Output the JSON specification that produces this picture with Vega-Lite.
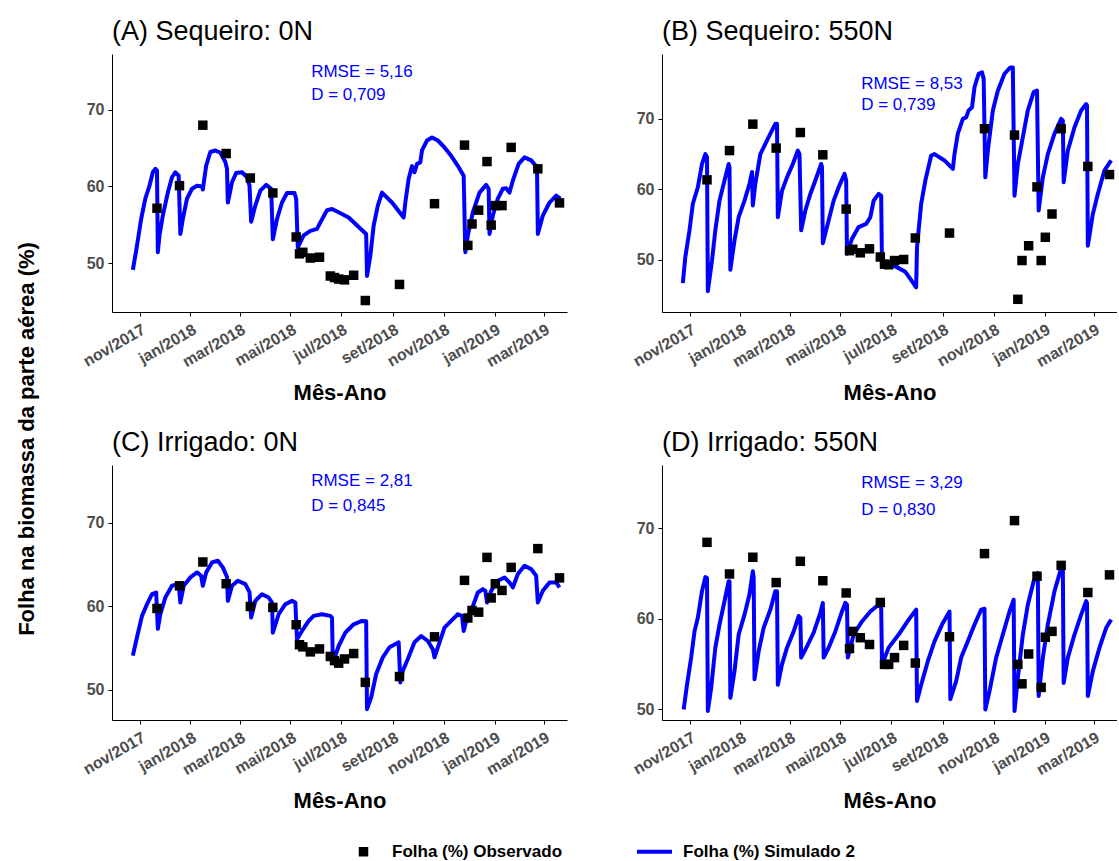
{
"$schema": "https://vega.github.io/schema/vega-lite/v6.json",
"padding": {"left": 16, "top": 18, "right": 0, "bottom": 0},
"title": {"text": "Folha na biomassa da parte aérea (%)", "orient": "left", "anchor": "middle", "fontSize": 22, "fontWeight": "bold", "offset": 41, "color": "black"},
"datasets": {
"estatisticas": [
{"painel": "A", "rmse": "RMSE = 5,16", "d": "D = 0,709"},
{"painel": "B", "rmse": "RMSE = 8,53", "d": "D = 0,739"},
{"painel": "C", "rmse": "RMSE = 2,81", "d": "D = 0,845"},
{"painel": "D", "rmse": "RMSE = 3,29", "d": "D = 0,830"}
],
"observado": [
{"painel":"A","data":"2017-11-22","folha":57.15},{"painel":"A","data":"2017-12-19","folha":60.1},{"painel":"A","data":"2018-01-16","folha":68.0},{"painel":"A","data":"2018-02-13","folha":64.3},{"painel":"A","data":"2018-03-14","folha":61.1},{"painel":"A","data":"2018-04-10","folha":59.15},{"painel":"A","data":"2018-05-08","folha":53.4},{"painel":"A","data":"2018-05-12","folha":51.2},{"painel":"A","data":"2018-05-16","folha":51.4},{"painel":"A","data":"2018-05-25","folha":50.65},{"painel":"A","data":"2018-06-05","folha":50.75},{"painel":"A","data":"2018-06-18","folha":48.3},{"painel":"A","data":"2018-06-23","folha":48.1},{"painel":"A","data":"2018-06-28","folha":47.9},{"painel":"A","data":"2018-07-05","folha":47.8},{"painel":"A","data":"2018-07-16","folha":48.4},{"painel":"A","data":"2018-07-30","folha":45.1},{"painel":"A","data":"2018-09-09","folha":47.2},{"painel":"A","data":"2018-10-21","folha":57.75},{"painel":"A","data":"2018-11-26","folha":65.4},{"painel":"A","data":"2018-11-30","folha":52.3},{"painel":"A","data":"2018-12-05","folha":55.1},{"painel":"A","data":"2018-12-13","folha":56.9},{"painel":"A","data":"2018-12-23","folha":63.25},{"painel":"A","data":"2018-12-28","folha":54.95},{"painel":"A","data":"2019-01-02","folha":57.5},{"painel":"A","data":"2019-01-10","folha":57.5},{"painel":"A","data":"2019-01-21","folha":65.1},{"painel":"A","data":"2019-02-22","folha":62.3},{"painel":"A","data":"2019-03-20","folha":57.85},
{"painel":"B","data":"2017-11-22","folha":61.35},{"painel":"B","data":"2017-12-19","folha":65.5},{"painel":"B","data":"2018-01-16","folha":69.25},{"painel":"B","data":"2018-02-13","folha":65.85},{"painel":"B","data":"2018-03-14","folha":68.06},{"painel":"B","data":"2018-04-10","folha":64.9},{"painel":"B","data":"2018-05-08","folha":57.2},{"painel":"B","data":"2018-05-12","folha":51.3},{"painel":"B","data":"2018-05-16","folha":51.5},{"painel":"B","data":"2018-05-25","folha":51.0},{"painel":"B","data":"2018-06-05","folha":51.56},{"painel":"B","data":"2018-06-18","folha":50.4},{"painel":"B","data":"2018-06-23","folha":49.4},{"painel":"B","data":"2018-06-28","folha":49.3},{"painel":"B","data":"2018-07-05","folha":49.9},{"painel":"B","data":"2018-07-16","folha":50.05},{"painel":"B","data":"2018-07-30","folha":53.1},{"painel":"B","data":"2018-09-09","folha":53.8},{"painel":"B","data":"2018-10-21","folha":68.6},{"painel":"B","data":"2018-11-26","folha":67.7},{"painel":"B","data":"2018-11-30","folha":44.4},{"painel":"B","data":"2018-12-05","folha":49.9},{"painel":"B","data":"2018-12-13","folha":52.0},{"painel":"B","data":"2018-12-23","folha":60.35},{"painel":"B","data":"2018-12-28","folha":49.9},{"painel":"B","data":"2019-01-02","folha":53.2},{"painel":"B","data":"2019-01-10","folha":56.5},{"painel":"B","data":"2019-01-21","folha":68.6},{"painel":"B","data":"2019-02-22","folha":63.25},{"painel":"B","data":"2019-03-20","folha":62.1},
{"painel":"C","data":"2017-11-22","folha":59.74},{"painel":"C","data":"2017-12-19","folha":62.45},{"painel":"C","data":"2018-01-16","folha":65.3},{"painel":"C","data":"2018-02-13","folha":62.7},{"painel":"C","data":"2018-03-14","folha":59.98},{"painel":"C","data":"2018-04-10","folha":59.86},{"painel":"C","data":"2018-05-08","folha":57.8},{"painel":"C","data":"2018-05-12","folha":55.4},{"painel":"C","data":"2018-05-16","folha":55.15},{"painel":"C","data":"2018-05-25","folha":54.55},{"painel":"C","data":"2018-06-05","folha":54.9},{"painel":"C","data":"2018-06-18","folha":54.0},{"painel":"C","data":"2018-06-23","folha":53.5},{"painel":"C","data":"2018-06-28","folha":53.2},{"painel":"C","data":"2018-07-05","folha":53.7},{"painel":"C","data":"2018-07-16","folha":54.35},{"painel":"C","data":"2018-07-30","folha":50.9},{"painel":"C","data":"2018-09-09","folha":51.6},{"painel":"C","data":"2018-10-21","folha":56.35},{"painel":"C","data":"2018-11-26","folha":63.1},{"painel":"C","data":"2018-11-30","folha":58.6},{"painel":"C","data":"2018-12-05","folha":59.5},{"painel":"C","data":"2018-12-13","folha":59.3},{"painel":"C","data":"2018-12-23","folha":65.85},{"painel":"C","data":"2018-12-28","folha":61.0},{"painel":"C","data":"2019-01-02","folha":62.7},{"painel":"C","data":"2019-01-10","folha":61.9},{"painel":"C","data":"2019-01-21","folha":64.65},{"painel":"C","data":"2019-02-22","folha":66.9},{"painel":"C","data":"2019-03-20","folha":63.4},
{"painel":"D","data":"2017-11-22","folha":68.45},{"painel":"D","data":"2017-12-19","folha":64.95},{"painel":"D","data":"2018-01-16","folha":66.8},{"painel":"D","data":"2018-02-13","folha":64.0},{"painel":"D","data":"2018-03-14","folha":66.35},{"painel":"D","data":"2018-04-10","folha":64.2},{"painel":"D","data":"2018-05-08","folha":62.85},{"painel":"D","data":"2018-05-12","folha":56.7},{"painel":"D","data":"2018-05-16","folha":58.6},{"painel":"D","data":"2018-05-25","folha":57.9},{"painel":"D","data":"2018-06-05","folha":57.15},{"painel":"D","data":"2018-06-18","folha":61.8},{"painel":"D","data":"2018-06-23","folha":54.95},{"painel":"D","data":"2018-06-28","folha":54.95},{"painel":"D","data":"2018-07-05","folha":55.7},{"painel":"D","data":"2018-07-16","folha":57.05},{"painel":"D","data":"2018-07-30","folha":55.1},{"painel":"D","data":"2018-09-09","folha":58.0},{"painel":"D","data":"2018-10-21","folha":67.2},{"painel":"D","data":"2018-11-26","folha":70.85},{"painel":"D","data":"2018-11-30","folha":54.95},{"painel":"D","data":"2018-12-05","folha":52.8},{"painel":"D","data":"2018-12-13","folha":56.1},{"painel":"D","data":"2018-12-23","folha":64.7},{"painel":"D","data":"2018-12-28","folha":52.4},{"painel":"D","data":"2019-01-02","folha":57.95},{"painel":"D","data":"2019-01-10","folha":58.6},{"painel":"D","data":"2019-01-21","folha":65.9},{"painel":"D","data":"2019-02-22","folha":62.9},{"painel":"D","data":"2019-03-20","folha":64.85}
],
"simulado": [
{"painel":"A","data":"2017-10-24","folha":49.1},{"painel":"A","data":"2017-10-28","folha":51.6},{"painel":"A","data":"2017-11-03","folha":55.75},{"painel":"A","data":"2017-11-08","folha":58.4},{"painel":"A","data":"2017-11-13","folha":60.1},{"painel":"A","data":"2017-11-17","folha":61.85},{"painel":"A","data":"2017-11-20","folha":62.3},{"painel":"A","data":"2017-11-22","folha":62.1},{"painel":"A","data":"2017-11-23","folha":51.4},{"painel":"A","data":"2017-11-25","folha":53.6},{"painel":"A","data":"2017-11-29","folha":56.2},{"painel":"A","data":"2017-12-05","folha":59.2},{"painel":"A","data":"2017-12-10","folha":61.2},{"painel":"A","data":"2017-12-14","folha":61.85},{"painel":"A","data":"2017-12-18","folha":61.4},{"painel":"A","data":"2017-12-20","folha":53.8},{"painel":"A","data":"2017-12-23","folha":55.75},{"painel":"A","data":"2017-12-28","folha":58.4},{"painel":"A","data":"2018-01-03","folha":59.7},{"painel":"A","data":"2018-01-09","folha":60.1},{"painel":"A","data":"2018-01-15","folha":60.0},{"painel":"A","data":"2018-01-16","folha":59.6},{"painel":"A","data":"2018-01-20","folha":62.7},{"painel":"A","data":"2018-01-25","folha":64.5},{"painel":"A","data":"2018-01-31","folha":64.7},{"painel":"A","data":"2018-02-06","folha":64.4},{"painel":"A","data":"2018-02-12","folha":63.2},{"painel":"A","data":"2018-02-14","folha":62.3},{"painel":"A","data":"2018-02-15","folha":57.9},{"painel":"A","data":"2018-02-20","folha":60.55},{"painel":"A","data":"2018-02-25","folha":61.75},{"painel":"A","data":"2018-03-04","folha":61.85},{"painel":"A","data":"2018-03-10","folha":61.2},{"painel":"A","data":"2018-03-13","folha":60.1},{"painel":"A","data":"2018-03-15","folha":55.4},{"painel":"A","data":"2018-03-20","folha":57.5},{"painel":"A","data":"2018-03-26","folha":59.45},{"painel":"A","data":"2018-04-02","folha":60.2},{"painel":"A","data":"2018-04-08","folha":59.7},{"painel":"A","data":"2018-04-10","folha":53.1},{"painel":"A","data":"2018-04-15","folha":55.75},{"painel":"A","data":"2018-04-21","folha":57.9},{"painel":"A","data":"2018-04-27","folha":59.15},{"painel":"A","data":"2018-05-06","folha":59.15},{"painel":"A","data":"2018-05-08","folha":58.4},{"painel":"A","data":"2018-05-10","folha":52.05},{"painel":"A","data":"2018-05-17","folha":53.6},{"painel":"A","data":"2018-05-25","folha":54.2},{"painel":"A","data":"2018-06-02","folha":54.45},{"painel":"A","data":"2018-06-07","folha":55.5},{"painel":"A","data":"2018-06-14","folha":56.9},{"painel":"A","data":"2018-06-20","folha":57.05},{"painel":"A","data":"2018-07-02","folha":56.4},{"painel":"A","data":"2018-07-10","folha":55.95},{"painel":"A","data":"2018-07-22","folha":54.7},{"painel":"A","data":"2018-07-31","folha":53.8},{"painel":"A","data":"2018-08-01","folha":48.3},{"painel":"A","data":"2018-08-05","folha":50.95},{"painel":"A","data":"2018-08-09","folha":54.9},{"painel":"A","data":"2018-08-14","folha":57.5},{"painel":"A","data":"2018-08-19","folha":59.2},{"painel":"A","data":"2018-08-31","folha":57.9},{"painel":"A","data":"2018-09-14","folha":55.95},{"painel":"A","data":"2018-09-16","folha":57.9},{"painel":"A","data":"2018-09-20","folha":61.0},{"painel":"A","data":"2018-09-24","folha":62.65},{"painel":"A","data":"2018-09-27","folha":61.85},{"painel":"A","data":"2018-09-30","folha":62.95},{"painel":"A","data":"2018-10-04","folha":63.15},{"painel":"A","data":"2018-10-06","folha":64.7},{"painel":"A","data":"2018-10-12","folha":66.0},{"painel":"A","data":"2018-10-18","folha":66.4},{"painel":"A","data":"2018-10-25","folha":66.0},{"painel":"A","data":"2018-11-02","folha":65.1},{"painel":"A","data":"2018-11-10","folha":64.0},{"painel":"A","data":"2018-11-18","folha":62.7},{"painel":"A","data":"2018-11-25","folha":61.4},{"painel":"A","data":"2018-11-27","folha":51.4},{"painel":"A","data":"2018-11-30","folha":53.6},{"painel":"A","data":"2018-12-06","folha":56.6},{"painel":"A","data":"2018-12-14","folha":59.2},{"painel":"A","data":"2018-12-22","folha":60.2},{"painel":"A","data":"2018-12-25","folha":59.7},{"painel":"A","data":"2018-12-26","folha":53.8},{"painel":"A","data":"2018-12-30","folha":56.2},{"painel":"A","data":"2019-01-05","folha":58.4},{"painel":"A","data":"2019-01-11","folha":59.7},{"painel":"A","data":"2019-01-15","folha":59.75},{"painel":"A","data":"2019-01-19","folha":59.2},{"painel":"A","data":"2019-01-23","folha":60.75},{"painel":"A","data":"2019-01-30","folha":62.95},{"painel":"A","data":"2019-02-06","folha":63.8},{"painel":"A","data":"2019-02-14","folha":63.4},{"painel":"A","data":"2019-02-21","folha":62.5},{"painel":"A","data":"2019-02-22","folha":53.8},{"painel":"A","data":"2019-02-28","folha":56.2},{"painel":"A","data":"2019-03-08","folha":57.9},{"painel":"A","data":"2019-03-16","folha":58.8},{"painel":"A","data":"2019-03-21","folha":58.4},
{"painel":"B","data":"2017-10-24","folha":46.7},{"painel":"B","data":"2017-10-27","folha":50.4},{"painel":"B","data":"2017-11-01","folha":54.2},{"painel":"B","data":"2017-11-05","folha":57.95},{"painel":"B","data":"2017-11-11","folha":60.3},{"painel":"B","data":"2017-11-16","folha":63.6},{"painel":"B","data":"2017-11-20","folha":65.0},{"painel":"B","data":"2017-11-22","folha":64.55},{"painel":"B","data":"2017-11-23","folha":45.55},{"painel":"B","data":"2017-11-28","folha":49.9},{"painel":"B","data":"2017-12-02","folha":54.2},{"painel":"B","data":"2017-12-07","folha":58.4},{"painel":"B","data":"2017-12-13","folha":61.25},{"painel":"B","data":"2017-12-18","folha":63.6},{"painel":"B","data":"2017-12-19","folha":63.15},{"painel":"B","data":"2017-12-20","folha":48.6},{"painel":"B","data":"2017-12-25","folha":52.75},{"painel":"B","data":"2017-12-30","folha":56.05},{"painel":"B","data":"2018-01-06","folha":58.4},{"painel":"B","data":"2018-01-12","folha":60.8},{"painel":"B","data":"2018-01-15","folha":62.45},{"painel":"B","data":"2018-01-16","folha":57.7},{"painel":"B","data":"2018-01-19","folha":60.8},{"painel":"B","data":"2018-01-25","folha":65.0},{"painel":"B","data":"2018-01-31","folha":66.45},{"painel":"B","data":"2018-02-06","folha":67.9},{"painel":"B","data":"2018-02-12","folha":69.3},{"painel":"B","data":"2018-02-14","folha":69.3},{"painel":"B","data":"2018-02-15","folha":56.05},{"painel":"B","data":"2018-02-20","folha":59.8},{"painel":"B","data":"2018-02-26","folha":61.7},{"painel":"B","data":"2018-03-05","folha":63.6},{"painel":"B","data":"2018-03-11","folha":65.5},{"painel":"B","data":"2018-03-13","folha":65.0},{"painel":"B","data":"2018-03-15","folha":54.2},{"painel":"B","data":"2018-03-20","folha":57.0},{"painel":"B","data":"2018-03-26","folha":59.35},{"painel":"B","data":"2018-04-01","folha":61.25},{"painel":"B","data":"2018-04-08","folha":63.6},{"painel":"B","data":"2018-04-09","folha":63.15},{"painel":"B","data":"2018-04-10","folha":52.35},{"painel":"B","data":"2018-04-17","folha":55.6},{"painel":"B","data":"2018-04-23","folha":58.4},{"painel":"B","data":"2018-04-29","folha":60.3},{"painel":"B","data":"2018-05-06","folha":62.2},{"painel":"B","data":"2018-05-08","folha":61.25},{"painel":"B","data":"2018-05-09","folha":50.85},{"painel":"B","data":"2018-05-15","folha":53.0},{"painel":"B","data":"2018-05-23","folha":54.65},{"painel":"B","data":"2018-06-01","folha":55.1},{"painel":"B","data":"2018-06-06","folha":56.05},{"painel":"B","data":"2018-06-10","folha":58.4},{"painel":"B","data":"2018-06-16","folha":59.35},{"painel":"B","data":"2018-06-19","folha":59.1},{"painel":"B","data":"2018-06-20","folha":49.0},{"painel":"B","data":"2018-06-24","folha":49.5},{"painel":"B","data":"2018-07-07","folha":49.0},{"painel":"B","data":"2018-07-18","folha":48.3},{"painel":"B","data":"2018-07-24","folha":47.3},{"painel":"B","data":"2018-07-31","folha":46.1},{"painel":"B","data":"2018-08-01","folha":51.8},{"painel":"B","data":"2018-08-06","folha":57.95},{"painel":"B","data":"2018-08-11","folha":61.25},{"painel":"B","data":"2018-08-18","folha":64.8},{"painel":"B","data":"2018-08-22","folha":65.0},{"painel":"B","data":"2018-09-03","folha":64.1},{"painel":"B","data":"2018-09-13","folha":62.9},{"painel":"B","data":"2018-09-15","folha":65.0},{"painel":"B","data":"2018-09-19","folha":67.9},{"painel":"B","data":"2018-09-25","folha":70.0},{"painel":"B","data":"2018-09-29","folha":70.2},{"painel":"B","data":"2018-10-02","folha":71.2},{"painel":"B","data":"2018-10-06","folha":71.65},{"painel":"B","data":"2018-10-09","folha":74.5},{"painel":"B","data":"2018-10-14","folha":76.4},{"painel":"B","data":"2018-10-18","folha":76.6},{"painel":"B","data":"2018-10-20","folha":75.7},{"painel":"B","data":"2018-10-22","folha":61.7},{"painel":"B","data":"2018-10-25","folha":65.5},{"painel":"B","data":"2018-10-31","folha":71.2},{"painel":"B","data":"2018-11-06","folha":74.0},{"painel":"B","data":"2018-11-14","folha":76.4},{"painel":"B","data":"2018-11-21","folha":77.3},{"painel":"B","data":"2018-11-24","folha":77.3},{"painel":"B","data":"2018-11-26","folha":59.1},{"painel":"B","data":"2018-11-30","folha":63.6},{"painel":"B","data":"2018-12-06","folha":67.4},{"painel":"B","data":"2018-12-12","folha":71.2},{"painel":"B","data":"2018-12-19","folha":73.8},{"painel":"B","data":"2018-12-23","folha":74.0},{"painel":"B","data":"2018-12-25","folha":57.0},{"painel":"B","data":"2018-12-30","folha":61.7},{"painel":"B","data":"2019-01-05","folha":65.0},{"painel":"B","data":"2019-01-13","folha":67.9},{"painel":"B","data":"2019-01-21","folha":70.0},{"painel":"B","data":"2019-01-23","folha":69.76},{"painel":"B","data":"2019-01-24","folha":61.0},{"painel":"B","data":"2019-01-29","folha":65.5},{"painel":"B","data":"2019-02-06","folha":68.8},{"painel":"B","data":"2019-02-14","folha":71.2},{"painel":"B","data":"2019-02-20","folha":72.1},{"painel":"B","data":"2019-02-21","folha":71.9},{"painel":"B","data":"2019-02-22","folha":52.0},{"painel":"B","data":"2019-02-28","folha":56.5},{"painel":"B","data":"2019-03-06","folha":59.35},{"painel":"B","data":"2019-03-14","folha":62.7},{"painel":"B","data":"2019-03-22","folha":64.1},
{"painel":"C","data":"2017-10-24","folha":54.1},{"painel":"C","data":"2017-10-29","folha":56.3},{"painel":"C","data":"2017-11-04","folha":58.85},{"painel":"C","data":"2017-11-10","folha":60.25},{"painel":"C","data":"2017-11-16","folha":61.45},{"painel":"C","data":"2017-11-21","folha":61.65},{"painel":"C","data":"2017-11-23","folha":57.3},{"painel":"C","data":"2017-11-26","folha":59.05},{"painel":"C","data":"2017-12-02","folha":61.05},{"painel":"C","data":"2017-12-10","folha":62.45},{"painel":"C","data":"2017-12-18","folha":62.65},{"painel":"C","data":"2017-12-20","folha":60.45},{"painel":"C","data":"2017-12-24","folha":62.45},{"painel":"C","data":"2018-01-01","folha":63.45},{"painel":"C","data":"2018-01-09","folha":64.05},{"painel":"C","data":"2018-01-14","folha":63.65},{"painel":"C","data":"2018-01-16","folha":62.45},{"painel":"C","data":"2018-01-20","folha":64.05},{"painel":"C","data":"2018-01-27","folha":65.25},{"painel":"C","data":"2018-02-03","folha":65.45},{"painel":"C","data":"2018-02-09","folha":64.65},{"painel":"C","data":"2018-02-14","folha":63.5},{"painel":"C","data":"2018-02-15","folha":60.65},{"painel":"C","data":"2018-02-20","folha":62.45},{"painel":"C","data":"2018-02-27","folha":63.05},{"painel":"C","data":"2018-03-08","folha":62.65},{"painel":"C","data":"2018-03-13","folha":61.7},{"painel":"C","data":"2018-03-15","folha":58.65},{"painel":"C","data":"2018-03-20","folha":60.65},{"painel":"C","data":"2018-03-28","folha":61.45},{"painel":"C","data":"2018-04-05","folha":61.05},{"painel":"C","data":"2018-04-09","folha":60.45},{"painel":"C","data":"2018-04-10","folha":56.85},{"painel":"C","data":"2018-04-17","folha":59.05},{"painel":"C","data":"2018-04-25","folha":60.25},{"painel":"C","data":"2018-05-03","folha":60.65},{"painel":"C","data":"2018-05-07","folha":60.45},{"painel":"C","data":"2018-05-09","folha":56.05},{"painel":"C","data":"2018-05-15","folha":57.05},{"painel":"C","data":"2018-05-23","folha":58.25},{"painel":"C","data":"2018-05-29","folha":58.85},{"painel":"C","data":"2018-06-08","folha":59.05},{"painel":"C","data":"2018-06-18","folha":58.85},{"painel":"C","data":"2018-06-20","folha":58.65},{"painel":"C","data":"2018-06-21","folha":53.25},{"painel":"C","data":"2018-06-28","folha":55.25},{"painel":"C","data":"2018-07-06","folha":56.85},{"painel":"C","data":"2018-07-16","folha":57.85},{"painel":"C","data":"2018-07-26","folha":58.25},{"painel":"C","data":"2018-07-31","folha":58.2},{"painel":"C","data":"2018-08-01","folha":47.7},{"painel":"C","data":"2018-08-06","folha":49.1},{"painel":"C","data":"2018-08-12","folha":51.9},{"painel":"C","data":"2018-08-20","folha":53.9},{"painel":"C","data":"2018-08-28","folha":55.1},{"painel":"C","data":"2018-09-08","folha":55.7},{"painel":"C","data":"2018-09-10","folha":50.9},{"painel":"C","data":"2018-09-13","folha":52.3},{"painel":"C","data":"2018-09-19","folha":53.7},{"painel":"C","data":"2018-09-27","folha":55.7},{"painel":"C","data":"2018-10-05","folha":56.45},{"painel":"C","data":"2018-10-13","folha":55.85},{"painel":"C","data":"2018-10-19","folha":54.85},{"painel":"C","data":"2018-10-21","folha":53.9},{"painel":"C","data":"2018-10-25","folha":55.1},{"painel":"C","data":"2018-11-02","folha":57.45},{"painel":"C","data":"2018-11-10","folha":58.25},{"painel":"C","data":"2018-11-18","folha":59.05},{"painel":"C","data":"2018-11-23","folha":58.85},{"painel":"C","data":"2018-11-25","folha":57.05},{"painel":"C","data":"2018-11-28","folha":58.25},{"painel":"C","data":"2018-12-04","folha":59.45},{"painel":"C","data":"2018-12-12","folha":61.65},{"painel":"C","data":"2018-12-18","folha":62.05},{"painel":"C","data":"2018-12-21","folha":61.85},{"painel":"C","data":"2018-12-23","folha":60.45},{"painel":"C","data":"2018-12-28","folha":61.85},{"painel":"C","data":"2019-01-05","folha":63.05},{"painel":"C","data":"2019-01-13","folha":63.45},{"painel":"C","data":"2019-01-19","folha":62.85},{"painel":"C","data":"2019-01-23","folha":62.25},{"painel":"C","data":"2019-01-29","folha":63.85},{"painel":"C","data":"2019-02-06","folha":64.85},{"painel":"C","data":"2019-02-14","folha":64.45},{"painel":"C","data":"2019-02-20","folha":63.65},{"painel":"C","data":"2019-02-22","folha":60.45},{"painel":"C","data":"2019-02-28","folha":61.85},{"painel":"C","data":"2019-03-08","folha":62.85},{"painel":"C","data":"2019-03-16","folha":62.85},{"painel":"C","data":"2019-03-20","folha":62.25},
{"painel":"D","data":"2017-10-25","folha":49.95},{"painel":"D","data":"2017-10-29","folha":52.7},{"painel":"D","data":"2017-11-03","folha":55.7},{"painel":"D","data":"2017-11-07","folha":58.6},{"painel":"D","data":"2017-11-11","folha":60.1},{"painel":"D","data":"2017-11-16","folha":63.05},{"painel":"D","data":"2017-11-20","folha":64.6},{"painel":"D","data":"2017-11-22","folha":64.5},{"painel":"D","data":"2017-11-23","folha":49.8},{"painel":"D","data":"2017-11-27","folha":52.35},{"painel":"D","data":"2017-12-02","folha":56.8},{"painel":"D","data":"2017-12-07","folha":59.35},{"painel":"D","data":"2017-12-13","folha":61.95},{"painel":"D","data":"2017-12-18","folha":64.15},{"painel":"D","data":"2017-12-19","folha":64.15},{"painel":"D","data":"2017-12-20","folha":51.25},{"painel":"D","data":"2017-12-25","folha":54.2},{"painel":"D","data":"2017-12-30","folha":58.25},{"painel":"D","data":"2018-01-06","folha":60.45},{"painel":"D","data":"2018-01-12","folha":62.7},{"painel":"D","data":"2018-01-16","folha":65.25},{"painel":"D","data":"2018-01-17","folha":64.5},{"painel":"D","data":"2018-01-18","folha":53.3},{"painel":"D","data":"2018-01-23","folha":56.4},{"painel":"D","data":"2018-01-29","folha":59.0},{"painel":"D","data":"2018-02-06","folha":61.0},{"painel":"D","data":"2018-02-12","folha":63.05},{"painel":"D","data":"2018-02-14","folha":63.05},{"painel":"D","data":"2018-02-15","folha":52.7},{"painel":"D","data":"2018-02-20","folha":54.95},{"painel":"D","data":"2018-02-26","folha":56.8},{"painel":"D","data":"2018-03-06","folha":58.6},{"painel":"D","data":"2018-03-12","folha":60.3},{"painel":"D","data":"2018-03-14","folha":60.1},{"painel":"D","data":"2018-03-15","folha":55.7},{"painel":"D","data":"2018-03-22","folha":56.95},{"painel":"D","data":"2018-03-30","folha":58.45},{"painel":"D","data":"2018-04-07","folha":60.65},{"painel":"D","data":"2018-04-10","folha":61.75},{"painel":"D","data":"2018-04-11","folha":55.7},{"painel":"D","data":"2018-04-17","folha":56.8},{"painel":"D","data":"2018-04-25","folha":58.6},{"painel":"D","data":"2018-05-03","folha":60.8},{"painel":"D","data":"2018-05-07","folha":61.75},{"painel":"D","data":"2018-05-09","folha":61.55},{"painel":"D","data":"2018-05-10","folha":55.7},{"painel":"D","data":"2018-05-17","folha":58.25},{"painel":"D","data":"2018-05-27","folha":59.7},{"painel":"D","data":"2018-06-06","folha":60.8},{"painel":"D","data":"2018-06-14","folha":61.4},{"painel":"D","data":"2018-06-19","folha":61.4},{"painel":"D","data":"2018-06-20","folha":54.95},{"painel":"D","data":"2018-06-28","folha":56.8},{"painel":"D","data":"2018-07-10","folha":58.25},{"painel":"D","data":"2018-07-22","folha":59.9},{"painel":"D","data":"2018-07-31","folha":61.0},{"painel":"D","data":"2018-08-01","folha":50.9},{"painel":"D","data":"2018-08-06","folha":52.7},{"painel":"D","data":"2018-08-14","folha":55.3},{"painel":"D","data":"2018-08-22","folha":57.5},{"painel":"D","data":"2018-08-31","folha":59.35},{"painel":"D","data":"2018-09-09","folha":60.8},{"painel":"D","data":"2018-09-10","folha":51.1},{"painel":"D","data":"2018-09-17","folha":53.1},{"painel":"D","data":"2018-09-23","folha":55.7},{"painel":"D","data":"2018-10-01","folha":57.5},{"painel":"D","data":"2018-10-09","folha":59.35},{"painel":"D","data":"2018-10-17","folha":61.0},{"painel":"D","data":"2018-10-21","folha":61.1},{"painel":"D","data":"2018-10-22","folha":49.95},{"painel":"D","data":"2018-10-27","folha":52.0},{"painel":"D","data":"2018-11-04","folha":55.7},{"painel":"D","data":"2018-11-12","folha":58.25},{"painel":"D","data":"2018-11-20","folha":60.8},{"painel":"D","data":"2018-11-25","folha":62.1},{"painel":"D","data":"2018-11-26","folha":49.8},{"painel":"D","data":"2018-11-30","folha":53.45},{"painel":"D","data":"2018-12-06","folha":58.25},{"painel":"D","data":"2018-12-12","folha":61.55},{"painel":"D","data":"2018-12-19","folha":64.15},{"painel":"D","data":"2018-12-24","folha":65.05},{"painel":"D","data":"2018-12-25","folha":51.45},{"painel":"D","data":"2018-12-30","folha":55.7},{"painel":"D","data":"2019-01-05","folha":59.35},{"painel":"D","data":"2019-01-13","folha":63.05},{"painel":"D","data":"2019-01-21","folha":65.6},{"painel":"D","data":"2019-01-23","folha":65.6},{"painel":"D","data":"2019-01-24","folha":52.9},{"painel":"D","data":"2019-01-29","folha":55.7},{"painel":"D","data":"2019-02-06","folha":58.25},{"painel":"D","data":"2019-02-14","folha":60.45},{"painel":"D","data":"2019-02-20","folha":61.95},{"painel":"D","data":"2019-02-21","folha":61.75},{"painel":"D","data":"2019-02-22","folha":51.45},{"painel":"D","data":"2019-02-28","folha":54.2},{"painel":"D","data":"2019-03-08","folha":56.8},{"painel":"D","data":"2019-03-16","folha":59.0},{"painel":"D","data":"2019-03-22","folha":59.9}
]
},
"spacing": 25,
"vconcat": [
{"hconcat": [
{"title": {"text": "(A) Sequeiro: 0N", "frame": "group"}, "width": 455, "height": 258, "layer": [
{"data": {"name": "simulado"}, "transform": [{"filter": "datum.painel === 'A'"}], "mark": {"type": "line", "strokeWidth": 4, "strokeJoin": "round"},
 "encoding": {"x": {"field": "data", "type": "temporal", "scale": {"type": "utc", "domain": [1506643200000, 1553817600000]}, "axis": {"title": "Mês-Ano", "values": [1509494400000, 1514764800000, 1519862400000, 1525132800000, 1530403200000, 1535760000000, 1541030400000, 1546300800000, 1551398400000], "labelExpr": "['jan','fev','mar','abr','mai','jun','jul','ago','set','out','nov','dez'][utcmonth(datum.value)] + '/' + utcyear(datum.value)"}},
  "y": {"field": "folha", "type": "quantitative", "scale": {"domain": [43.6, 77.3], "nice": false, "zero": false}, "axis": {"title": null, "values": [50, 60, 70]}},
  "color": {"datum": "Folha (%) Simulado 2", "type": "nominal", "scale": {"domain": ["Folha (%) Observado", "Folha (%) Simulado 2"], "range": ["black", "blue"]},
   "legend": {"title": null, "orient": "none", "legendX": 243, "legendY": 789, "direction": "horizontal",
    "encode": {"symbols": {"update": {
     "shape": {"signal": "datum.value === 'Folha (%) Simulado 2' ? 'stroke' : 'square'"},
     "size": {"signal": "datum.value === 'Folha (%) Simulado 2' ? 1225 : 90"},
     "fill": {"signal": "datum.value === 'Folha (%) Simulado 2' ? 'transparent' : 'black'"},
     "stroke": {"signal": "datum.value === 'Folha (%) Simulado 2' ? 'blue' : 'black'"},
     "strokeWidth": {"signal": "datum.value === 'Folha (%) Simulado 2' ? 4 : 0"}}}}}}}},
{"data": {"name": "observado"}, "transform": [{"filter": "datum.painel === 'A'"}], "mark": {"type": "point", "shape": "square", "filled": true, "size": 90, "opacity": 1},
 "encoding": {"x": {"field": "data", "type": "temporal"}, "y": {"field": "folha", "type": "quantitative"}, "color": {"datum": "Folha (%) Observado", "type": "nominal"}}},
{"data": {"name": "estatisticas"}, "transform": [{"filter": "datum.painel === 'A'"}], "mark": {"type": "text", "align": "left", "baseline": "middle", "fontSize": 17, "color": "blue"},
 "encoding": {"x": {"datum": 1527292800000, "type": "temporal"}, "y": {"datum": 75, "type": "quantitative"}, "text": {"field": "rmse"}}},
{"data": {"name": "estatisticas"}, "transform": [{"filter": "datum.painel === 'A'"}], "mark": {"type": "text", "align": "left", "baseline": "middle", "fontSize": 17, "color": "blue"},
 "encoding": {"x": {"datum": 1527292800000, "type": "temporal"}, "y": {"datum": 72, "type": "quantitative"}, "text": {"field": "d"}}}
]},
{"title": {"text": "(B) Sequeiro: 550N", "frame": "group"}, "width": 455, "height": 258, "layer": [
{"data": {"name": "simulado"}, "transform": [{"filter": "datum.painel === 'B'"}], "mark": {"type": "line", "strokeWidth": 4, "strokeJoin": "round"},
 "encoding": {"x": {"field": "data", "type": "temporal", "scale": {"type": "utc", "domain": [1506643200000, 1553817600000]}, "axis": {"title": "Mês-Ano", "values": [1509494400000, 1514764800000, 1519862400000, 1525132800000, 1530403200000, 1535760000000, 1541030400000, 1546300800000, 1551398400000], "labelExpr": "['jan','fev','mar','abr','mai','jun','jul','ago','set','out','nov','dez'][utcmonth(datum.value)] + '/' + utcyear(datum.value)"}},
  "y": {"field": "folha", "type": "quantitative", "scale": {"domain": [42.6, 79.2], "nice": false, "zero": false}, "axis": {"title": null, "values": [50, 60, 70]}},
  "color": {"datum": "Folha (%) Simulado 2", "type": "nominal"}}},
{"data": {"name": "observado"}, "transform": [{"filter": "datum.painel === 'B'"}], "mark": {"type": "point", "shape": "square", "filled": true, "size": 90, "opacity": 1},
 "encoding": {"x": {"field": "data", "type": "temporal"}, "y": {"field": "folha", "type": "quantitative"}, "color": {"datum": "Folha (%) Observado", "type": "nominal"}}},
{"data": {"name": "estatisticas"}, "transform": [{"filter": "datum.painel === 'B'"}], "mark": {"type": "text", "align": "left", "baseline": "middle", "fontSize": 17, "color": "blue"},
 "encoding": {"x": {"datum": 1527292800000, "type": "temporal"}, "y": {"datum": 75, "type": "quantitative"}, "text": {"field": "rmse"}}},
{"data": {"name": "estatisticas"}, "transform": [{"filter": "datum.painel === 'B'"}], "mark": {"type": "text", "align": "left", "baseline": "middle", "fontSize": 17, "color": "blue"},
 "encoding": {"x": {"datum": 1527292800000, "type": "temporal"}, "y": {"datum": 72, "type": "quantitative"}, "text": {"field": "d"}}}
]}
], "spacing": 63},
{"hconcat": [
{"title": {"text": "(C) Irrigado: 0N", "frame": "group"}, "width": 455, "height": 255, "layer": [
{"data": {"name": "simulado"}, "transform": [{"filter": "datum.painel === 'C'"}], "mark": {"type": "line", "strokeWidth": 4, "strokeJoin": "round"},
 "encoding": {"x": {"field": "data", "type": "temporal", "scale": {"type": "utc", "domain": [1506643200000, 1553817600000]}, "axis": {"title": "Mês-Ano", "values": [1509494400000, 1514764800000, 1519862400000, 1525132800000, 1530403200000, 1535760000000, 1541030400000, 1546300800000, 1551398400000], "labelExpr": "['jan','fev','mar','abr','mai','jun','jul','ago','set','out','nov','dez'][utcmonth(datum.value)] + '/' + utcyear(datum.value)"}},
  "y": {"field": "folha", "type": "quantitative", "scale": {"domain": [46.4, 76.9], "nice": false, "zero": false}, "axis": {"title": null, "values": [50, 60, 70]}},
  "color": {"datum": "Folha (%) Simulado 2", "type": "nominal"}}},
{"data": {"name": "observado"}, "transform": [{"filter": "datum.painel === 'C'"}], "mark": {"type": "point", "shape": "square", "filled": true, "size": 90, "opacity": 1},
 "encoding": {"x": {"field": "data", "type": "temporal"}, "y": {"field": "folha", "type": "quantitative"}, "color": {"datum": "Folha (%) Observado", "type": "nominal"}}},
{"data": {"name": "estatisticas"}, "transform": [{"filter": "datum.painel === 'C'"}], "mark": {"type": "text", "align": "left", "baseline": "middle", "fontSize": 17, "color": "blue"},
 "encoding": {"x": {"datum": 1527292800000, "type": "temporal"}, "y": {"datum": 75, "type": "quantitative"}, "text": {"field": "rmse"}}},
{"data": {"name": "estatisticas"}, "transform": [{"filter": "datum.painel === 'C'"}], "mark": {"type": "text", "align": "left", "baseline": "middle", "fontSize": 17, "color": "blue"},
 "encoding": {"x": {"datum": 1527292800000, "type": "temporal"}, "y": {"datum": 72, "type": "quantitative"}, "text": {"field": "d"}}}
]},
{"title": {"text": "(D) Irrigado: 550N", "frame": "group"}, "width": 455, "height": 255, "layer": [
{"data": {"name": "simulado"}, "transform": [{"filter": "datum.painel === 'D'"}], "mark": {"type": "line", "strokeWidth": 4, "strokeJoin": "round"},
 "encoding": {"x": {"field": "data", "type": "temporal", "scale": {"type": "utc", "domain": [1506643200000, 1553817600000]}, "axis": {"title": "Mês-Ano", "values": [1509494400000, 1514764800000, 1519862400000, 1525132800000, 1530403200000, 1535760000000, 1541030400000, 1546300800000, 1551398400000], "labelExpr": "['jan','fev','mar','abr','mai','jun','jul','ago','set','out','nov','dez'][utcmonth(datum.value)] + '/' + utcyear(datum.value)"}},
  "y": {"field": "folha", "type": "quantitative", "scale": {"domain": [48.8, 77.0], "nice": false, "zero": false}, "axis": {"title": null, "values": [50, 60, 70]}},
  "color": {"datum": "Folha (%) Simulado 2", "type": "nominal"}}},
{"data": {"name": "observado"}, "transform": [{"filter": "datum.painel === 'D'"}], "mark": {"type": "point", "shape": "square", "filled": true, "size": 90, "opacity": 1},
 "encoding": {"x": {"field": "data", "type": "temporal"}, "y": {"field": "folha", "type": "quantitative"}, "color": {"datum": "Folha (%) Observado", "type": "nominal"}}},
{"data": {"name": "estatisticas"}, "transform": [{"filter": "datum.painel === 'D'"}], "mark": {"type": "text", "align": "left", "baseline": "middle", "fontSize": 17, "color": "blue"},
 "encoding": {"x": {"datum": 1527292800000, "type": "temporal"}, "y": {"datum": 75, "type": "quantitative"}, "text": {"field": "rmse"}}},
{"data": {"name": "estatisticas"}, "transform": [{"filter": "datum.painel === 'D'"}], "mark": {"type": "text", "align": "left", "baseline": "middle", "fontSize": 17, "color": "blue"},
 "encoding": {"x": {"datum": 1527292800000, "type": "temporal"}, "y": {"datum": 72, "type": "quantitative"}, "text": {"field": "d"}}}
]}
], "spacing": 63}
],
"config": {
 "font": "Liberation Sans",
 "view": {"stroke": null},
 "title": {"fontSize": 27, "fontWeight": "normal", "anchor": "start", "color": "black", "offset": 8},
 "axis": {"grid": false, "domainColor": "black", "domainWidth": 1, "tickColor": "black", "tickSize": 4, "labelFontSize": 16, "labelFontWeight": "bold", "labelColor": "#4d4d4d", "labelPadding": 4, "titleColor": "black", "titleFontSize": 22, "titleFontWeight": "bold"},
 "axisX": {"labelAngle": -30, "labelAlign": "right", "labelBaseline": "top", "labelFlush": false, "labelOverlap": false, "labelPadding": 5, "titlePadding": 13},
 "legend": {"labelFontSize": 17, "labelFontWeight": "bold", "labelColor": "black", "labelLimit": 400, "symbolSize": 400, "columnPadding": 66, "labelOffset": 20, "symbolStrokeWidth": 4}
}
}
